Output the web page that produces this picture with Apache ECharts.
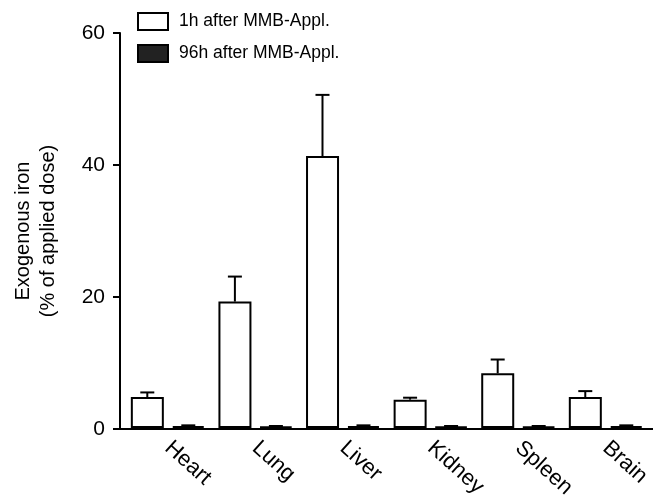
<!DOCTYPE html>
<html><head><meta charset="utf-8">
<script src="https://cdn.jsdelivr.net/npm/echarts@6/dist/echarts.min.js"></script>
<style>html,body{margin:0;padding:0;background:#fff}#c{width:653px;height:501px}</style>
</head><body><div id="c"></div>
<script>
const categories = ['Heart','Lung','Liver','Kidney','Spleen','Brain'];
const seriesNames = ['1h after MMB-Appl.','96h after MMB-Appl.'];
const values1h = [4.7, 19.2, 41.3, 4.3, 8.3, 4.7];
const err1h = [0.7, 3.8, 9.3, 0.3, 2.1, 0.9];
const values96h = [0.3, 0.2, 0.3, 0.2, 0.2, 0.3];
const err96h = [0.1, 0.1, 0.1, 0.1, 0.1, 0.1];
const yTicks = [0, 20, 40, 60];

const chart = echarts.init(document.getElementById('c'));
const font = 'Liberation Sans, Arial, sans-serif';
const BW = 33, OFF = 20.5;
const yMin = yTicks[0], yMax = yTicks[yTicks.length - 1];
function errSeries(vals, errs, off) {
  return {
    type: 'custom', xAxisIndex: 1, yAxisIndex: 1,
    z: 5,
    data: vals.map((v, i) => [i, v, v + errs[i]]),
    renderItem: function (params, api) {
      const b = api.coord([api.value(0), api.value(1)]);
      const t = api.coord([api.value(0), api.value(2)]);
      const x = b[0] + off;
      return {
        type: 'group',
        children: [
          { type: 'line', shape: { x1: x, y1: b[1], x2: x, y2: t[1] }, style: { stroke: '#000', lineWidth: 2 } },
          { type: 'line', shape: { x1: x - 7, y1: t[1], x2: x + 7, y2: t[1] }, style: { stroke: '#000', lineWidth: 2 } }
        ]
      };
    }
  };
}
chart.setOption({
  animation: false,
  textStyle: { fontFamily: font },
  legend: {
    orient: 'vertical', left: 137, top: 12, padding: 0, itemWidth: 30, itemHeight: 17, itemGap: 13,
    textStyle: { fontSize: 17.5, color: '#000', fontFamily: font, padding: [0, 0, 0, 6] },
    data: seriesNames.map(n => ({ name: n, icon: 'rect' }))
  },
  grid: [
    { left: 120, right: -4, top: 33, bottom: 72 },
    { left: 124, right: -3, top: 33, bottom: 72 }
  ],
  xAxis: [
    { type: 'value', gridIndex: 0, min: 0, max: 1, axisLine: { show: true, onZero: false, lineStyle: { color: '#000', width: 2 } },
      axisTick: { show: false }, axisLabel: { show: false }, splitLine: { show: false } },
    { type: 'category', gridIndex: 1, data: categories,
      axisLine: { show: false },
      axisTick: { alignWithLabel: true, length: 6, lineStyle: { color: '#000', width: 2 } },
      axisLabel: { rotate: -42, color: '#000', fontSize: 22, margin: 17, fontFamily: font } }
  ],
  yAxis: [
    { type: 'value', gridIndex: 0, min: yMin, max: yMax, interval: 20,
      name: 'Exogenous iron\n(% of applied dose)', nameLocation: 'middle', nameGap: 59,
      nameTextStyle: { fontSize: 20, color: '#000', lineHeight: 25, fontFamily: font },
      axisLine: { show: true, lineStyle: { color: '#000', width: 2 } },
      axisTick: { show: true, length: 7, lineStyle: { color: '#000', width: 2 } },
      axisLabel: { color: '#000', fontSize: 21, margin: 15, fontFamily: font },
      splitLine: { show: false } },
    { type: 'value', gridIndex: 1, min: yMin, max: yMax, interval: 20, show: false, splitLine: { show: false } }
  ],
  series: [
    { name: seriesNames[0], type: 'bar', xAxisIndex: 1, yAxisIndex: 1, data: values1h, barWidth: BW, barGap: '24%',
      itemStyle: { color: '#fff', borderColor: '#000', borderWidth: 2 } },
    { name: seriesNames[1], type: 'bar', xAxisIndex: 1, yAxisIndex: 1, data: values96h, barWidth: BW, barGap: '24%',
      itemStyle: { color: '#222', borderColor: '#000', borderWidth: 2 } },
    errSeries(values1h, err1h, -OFF),
    errSeries(values96h, err96h, OFF)
  ]
});
</script></body></html>
